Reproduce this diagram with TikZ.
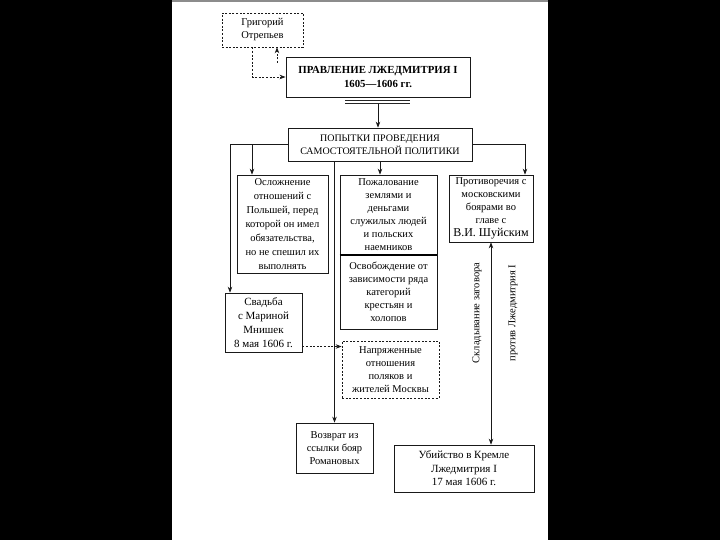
\documentclass[tikz,border=0pt]{standalone}
\usepackage{fontspec}
\setmainfont{Liberation Serif}
\usetikzlibrary{arrows.meta, calc, positioning}
\tikzset{
  % riquadro semplice
  box/.style={draw=black!90, line width=0.7pt, align=center, inner sep=1pt,
    fill=white, font=\fontsize{10.5}{13}\selectfont},
  % riquadro tratteggiato
  dbox/.style={box, dashed, dash pattern=on 2pt off 1.6pt},
  % titolo
  title/.style={font=\fontsize{10.8}{13.5}\selectfont\bfseries, line width=0.9pt},
  % frecce
  arr/.style={draw=black!90, line width=0.7pt, -{Stealth[length=6pt, width=4.5pt]}},
  darr/.style={arr, dashed, dash pattern=on 2pt off 1.6pt},
  % scritta verticale
  vlbl/.style={rotate=90, font=\fontsize{10.5}{12}\selectfont, inner sep=0pt},
}
\begin{document}
\begin{tikzpicture}[x=1pt, y=-1pt]
  \fill[black] (0,0) rectangle (720,540);
  \fill[white] (172,0) rectangle (548,540);
  \fill[black!45] (172,0) rectangle (548,2.5);
  \useasboundingbox (0,0) rectangle (720,540);

  \node[dbox, minimum width=81pt, minimum height=34pt] (grig) at (262.5,30)
    {Григорий\\Отрепьев};
  \node[box, title, minimum width=184pt, minimum height=40pt] (main) at (378,77)
    {ПРАВЛЕНИЕ ЛЖЕДМИТРИЯ I\\1605—1606 гг.};
  \node[box, font=\fontsize{10}{13}\selectfont, minimum width=184pt, minimum height=33pt] (pop) at (380,144.5)
    {ПОПЫТКИ ПРОВЕДЕНИЯ\\САМОСТОЯТЕЛЬНОЙ ПОЛИТИКИ};
  \node[box, font=\fontsize{10.5}{14}\selectfont, minimum width=91pt, minimum height=98pt] (osl) at (282.5,224)
    {Осложнение\\отношений с\\Польшей, перед\\которой он имел\\обязательства,\\но не спешил их\\выполнять};
  \node[box, minimum width=97pt, minimum height=80pt] (pozh) at (388.5,215)
    {Пожалование\\землями и\\деньгами\\служилых людей\\и польских\\наемников};
  \node[box, minimum width=97pt, minimum height=74pt] (osvob) at (388.5,292)
    {Освобождение от\\зависимости ряда\\категорий\\крестьян и\\холопов};
  \node[box, minimum width=84pt, minimum height=67pt] (protiv) at (491,208.5)
    {Противоречия с\\московскими\\боярами во\\главе с\\{\fontsize{12}{14}\selectfont В.И. Шуйским}};
  \node[box, font=\fontsize{11}{14}\selectfont, minimum width=77pt, minimum height=59pt] (svad) at (263.5,322.5)
    {Свадьба\\с Мариной\\Мнишек\\8 мая 1606 г.};
  \node[dbox, minimum width=97pt, minimum height=57pt] (napr) at (390.5,369.5)
    {Напряженные\\отношения\\поляков и\\жителей Москвы};
  \node[box, minimum width=77pt, minimum height=50pt] (vozvr) at (334.5,448)
    {Возврат из\\ссылки бояр\\Романовых};
  \node[box, font=\fontsize{11}{13.5}\selectfont, minimum width=140pt, minimum height=47pt] (ubiy) at (464,468.5)
    {Убийство в Кремле\\Лжедмитрия I\\17 мая 1606 г.};

  \node[vlbl] (zag1) at (477,313) {Складывание заговора};
  \node[vlbl] (zag2) at (513,313) {против Лжедмитрия I};

  % collegamenti
  \draw[darr] ($(grig.south)+(-10,0)$) |- (main.west);
  \coordinate (gup) at (277,63);
  \draw[darr] (gup) -- (gup |- grig.south);
  \draw[black!85, line width=0.6pt] ($(main.south)+(-33,2.5)$) -- ($(main.south)+(32,2.5)$)
    ($(main.south)+(-33,6)$) -- ($(main.south)+(32,6)$);
  \draw[arr, shorten <=7pt] (main.south) -- (main.south |- pop.north);
  \coordinate (lt) at (230,144.5);
  \coordinate (lb) at (252,144.5);
  \coordinate (rt) at (525,144.5);
  \draw[black!90, line width=0.7pt] (pop.west) -- (lt);
  \draw[arr] (lt) -- (lt |- svad.north);
  \draw[arr] (lb) -- (lb |- osl.north);
  \draw[arr] (pop.east) -| (rt |- protiv.north);
  \draw[arr] (pop.south) -- (pop.south |- pozh.north);
  \draw[arr] (vozvr.north |- pop.south) -- (vozvr.north);
  \draw[line width=2pt] (pozh.south west) -- (pozh.south east);
  \draw[darr] ([yshift=-24pt]svad.east) -- ([yshift=-24pt]svad.east -| napr.west);
  \draw[arr, {Stealth[length=6pt, width=4.5pt]}-{Stealth[length=6pt, width=4.5pt]}]
    (protiv.south) -- (protiv.south |- ubiy.north);
\end{tikzpicture}
\end{document}
